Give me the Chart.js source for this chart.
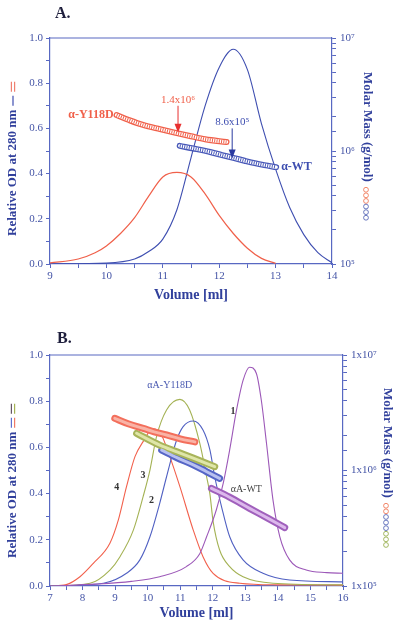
<!DOCTYPE html>
<html><head><meta charset="utf-8">
<script src="https://cdn.jsdelivr.net/npm/chart.js@4/dist/chart.umd.min.js"></script>
<style>
html,body{margin:0;padding:0;background:#fff;}
#wrap{position:relative;width:400px;height:625px;overflow:hidden;background:#fff;}
canvas{position:absolute;left:0;}
.pl{position:absolute;font:bold 16px "Liberation Serif",serif;line-height:16px;color:#1e1e3c;}
</style></head><body>
<div id="wrap">
<canvas id="cA" width="400" height="310" style="top:0"></canvas>
<canvas id="cB" width="400" height="315" style="top:310px"></canvas>
<div class="pl" style="left:55px;top:5px">A.</div>
<div class="pl" style="left:57px;top:330px">B.</div>
</div>
<script>
// ---------- Panel A data ----------
const volA_Y118D = [9.0, 9.5, 9.8, 10.0, 10.25, 10.5, 10.75, 11.0, 11.25, 11.5, 11.75, 12.0, 12.25, 12.5, 12.75, 13.0];
const odA_Y118D  = [0.005, 0.022, 0.05, 0.08, 0.135, 0.205, 0.30, 0.385, 0.405, 0.385, 0.31, 0.215, 0.135, 0.07, 0.025, 0.003];
const volA_WT = [9.0, 10.0, 10.5, 10.75, 11.0, 11.25, 11.5, 11.75, 12.0, 12.25, 12.5, 12.75, 13.0, 13.25, 13.5, 13.75, 14.0];
const odA_WT  = [0.0, 0.004, 0.022, 0.055, 0.11, 0.24, 0.47, 0.70, 0.87, 0.95, 0.86, 0.62, 0.42, 0.25, 0.13, 0.05, 0.005];
const mmVolA_Y118D = [10.18, 10.4, 10.65, 10.95, 11.25, 11.5, 11.75, 12.13];
const mmA_Y118D    = [2.08e6, 1.88e6, 1.70e6, 1.56e6, 1.44e6, 1.35e6, 1.27e6, 1.20e6];
const mmVolA_WT = [11.30, 11.6, 11.84, 12.05, 12.25, 12.45, 12.63, 12.8, 13.01];
const mmA_WT    = [1.11e6, 1.04e6, 9.8e5, 9.2e5, 8.7e5, 8.2e5, 7.8e5, 7.5e5, 7.2e5];
const xTicksA = [9, 10, 11, 12, 13, 14];
const yTicks = [0.0, 0.2, 0.4, 0.6, 0.8, 1.0];

// ---------- Panel B data ----------
const volB_1 = [7.0, 8.4, 9.5, 10.37, 11.19, 11.6, 11.81, 12.11, 12.32, 12.52, 12.73, 12.93, 13.13, 13.34, 13.49, 13.65, 13.85, 14.06, 14.36, 14.87, 15.5, 16.0];
const odB_1  = [0.0, 0.008, 0.02, 0.04, 0.084, 0.14, 0.213, 0.33, 0.444, 0.59, 0.762, 0.89, 0.947, 0.92, 0.805, 0.618, 0.372, 0.213, 0.113, 0.069, 0.058, 0.055];
const volB_2 = [7.0, 8.64, 9.35, 9.76, 10.07, 10.37, 10.58, 10.89, 11.09, 11.40, 11.70, 11.91, 12.06, 12.27, 12.52, 12.93, 13.54, 14.36, 16.0];
const odB_2  = [0.0, 0.012, 0.055, 0.113, 0.213, 0.358, 0.473, 0.632, 0.69, 0.714, 0.675, 0.59, 0.473, 0.343, 0.213, 0.113, 0.055, 0.026, 0.018];
const volB_3 = [7.0, 8.23, 8.84, 9.15, 9.56, 9.86, 10.07, 10.27, 10.58, 10.99, 11.29, 11.60, 11.81, 11.91, 12.01, 12.21, 12.52, 12.93, 13.85, 16.0];
const odB_3  = [0.0, 0.012, 0.069, 0.127, 0.242, 0.387, 0.502, 0.646, 0.762, 0.808, 0.762, 0.618, 0.473, 0.40, 0.28, 0.156, 0.084, 0.04, 0.012, 0.005];
const volB_4 = [7.0, 7.5, 7.92, 8.33, 8.84, 9.10, 9.35, 9.61, 9.86, 10.15, 10.40, 10.68, 10.99, 11.40, 11.70, 12.01, 12.83, 14.0, 16.0];
const odB_4  = [0.0, 0.006, 0.04, 0.098, 0.185, 0.286, 0.43, 0.56, 0.625, 0.68, 0.66, 0.56, 0.43, 0.242, 0.127, 0.055, 0.012, 0.005, 0.004];
const mmVolB_4 = [8.99, 9.4, 9.86, 10.2, 10.58, 11.0, 11.45];
const mmB_4    = [2.83e6, 2.54e6, 2.32e6, 2.16e6, 2.03e6, 1.88e6, 1.77e6];
const mmVolB_3 = [9.66, 10.37, 10.9, 11.40, 12.06];
const mmB_3    = [2.10e6, 1.66e6, 1.45e6, 1.28e6, 1.08e6];
const mmVolB_2 = [10.43, 10.9, 11.40, 11.8, 12.21];
const mmB_2    = [1.50e6, 1.29e6, 1.12e6, 9.8e5, 8.55e5];
const mmVolB_1 = [11.96, 12.5, 13.13, 13.7, 14.21];
const mmB_1    = [7.0e5, 5.9e5, 4.7e5, 3.85e5, 3.2e5];
const xTicksB = [7, 8, 9, 10, 11, 12, 13, 14, 15, 16];

// ---------- styling ----------
const AX = '#5868c2', TXT = '#4454a6', TTL = '#31409c';
const FONT = '"Liberation Serif", "Times New Roman", serif';
const SUP = {'5':'\u2075','6':'\u2076','7':'\u2077'};
const pts = (xs, ys) => xs.map((x, i) => ({x, y: ys[i]}));

function curve(xs, ys, color, w) {
  return {data: pts(xs, ys), borderColor: color, borderWidth: w || 1.2, pointRadius: 0,
          cubicInterpolationMode: 'monotone', yAxisID: 'y', order: 20, fill: false};
}
function tube(xs, ys, outer, inner, w1, w2, dashColor) {
  const base = {pointRadius: 0, cubicInterpolationMode: 'monotone', yAxisID: 'y2', fill: false, borderCapStyle: 'round'};
  const arr = [
    Object.assign({}, base, {data: pts(xs, ys), borderColor: outer, borderWidth: w1, order: 5}),
    Object.assign({}, base, {data: pts(xs, ys), borderColor: inner, borderWidth: w2, order: 4})
  ];
  if (dashColor) arr.push(Object.assign({}, base, {data: pts(xs, ys), borderColor: dashColor, borderWidth: w2, borderDash: [1, 1.3], borderCapStyle: 'butt', order: 3}));
  return arr;
}

function scalesFor(xmin, xmax, xTicks, leftW, rightW, xH, rightLabel, titlePadBottom) {
  const gridOpt = {display: true, drawOnChartArea: false, tickLength: 4, color: AX, lineWidth: 1};
  const border = {display: true, color: AX, width: 1.2};
  const tickFont = {family: FONT, size: 11};
  return {
    x: {type: 'linear', min: xmin, max: xmax, position: 'bottom',
        ticks: {stepSize: 0.5, autoSkip: false, maxRotation: 0, font: tickFont, color: TXT, padding: 2,
                callback: v => xTicks.includes(v) ? String(v) : ''},
        grid: gridOpt, border: border,
        title: {display: true, text: 'Volume [ml]', color: TTL, font: {family: FONT, size: 14, weight: 'bold'}, padding: {top: 0, bottom: titlePadBottom}},
        afterFit: s => { s.height = xH; }},
    y: {type: 'linear', min: 0, max: 1, position: 'left',
        ticks: {stepSize: 0.1, autoSkip: false, font: tickFont, color: TXT, padding: 3,
                callback: v => yTicks.some(t => Math.abs(t - v) < 1e-6) ? v.toFixed(1) : ''},
        grid: gridOpt, border: border,
        afterFit: s => { s.width = leftW; }},
    y2: {type: 'logarithmic', min: 1e5, max: 1e7, position: 'right',
        ticks: {autoSkip: false, font: tickFont, color: TXT, padding: 4,
                callback: v => { const l = Math.log10(v); return Math.abs(l - Math.round(l)) < 1e-9 ? rightLabel(Math.round(l)) : ''; }},
        grid: gridOpt, border: border,
        afterFit: s => { s.width = rightW; }}
  };
}

function drawLeftTitle(ctx, x, yBottom, glyphs) {
  ctx.save();
  ctx.translate(x, yBottom);
  ctx.rotate(-Math.PI / 2);
  ctx.font = 'bold 13px ' + FONT;
  ctx.fillStyle = TTL;
  ctx.textBaseline = 'middle';
  ctx.textAlign = 'left';
  const t = 'Relative OD at 280 nm';
  ctx.fillText(t, 0, 0);
  let p = ctx.measureText(t).width + 4;
  glyphs.forEach(g => {
    g.forEach(l => {
      ctx.strokeStyle = l.c; ctx.lineWidth = 1.2;
      ctx.beginPath(); ctx.moveTo(p, l.o); ctx.lineTo(p + 10, l.o); ctx.stroke();
    });
    p += 14;
  });
  ctx.restore();
}
function drawRightTitle(ctx, x, yTop, circles) {
  ctx.save();
  ctx.translate(x, yTop);
  ctx.rotate(Math.PI / 2);
  ctx.font = 'bold 13px ' + FONT;
  ctx.fillStyle = TTL;
  ctx.textBaseline = 'middle';
  ctx.textAlign = 'left';
  const t = 'Molar Mass (g/mol)';
  ctx.fillText(t, 0, 0);
  let p = ctx.measureText(t).width + 8;
  circles.forEach(c => {
    ctx.strokeStyle = c; ctx.lineWidth = 0.9;
    ctx.beginPath(); ctx.arc(p, 1, 2.4, 0, Math.PI * 2); ctx.stroke();
    p += 5.6;
  });
  ctx.restore();
}
function frameTop(chart) {
  const a = chart.chartArea, ctx = chart.ctx;
  ctx.save(); ctx.strokeStyle = AX; ctx.lineWidth = 1.2;
  ctx.beginPath(); ctx.moveTo(a.left, a.top); ctx.lineTo(a.right, a.top); ctx.stroke(); ctx.restore();
}
function arrow(ctx, x, y0, y1, color) {
  ctx.save(); ctx.strokeStyle = color; ctx.fillStyle = color; ctx.lineWidth = 1;
  ctx.beginPath(); ctx.moveTo(x, y0); ctx.lineTo(x, y1 - 6); ctx.stroke();
  ctx.beginPath(); ctx.moveTo(x - 3.5, y1 - 9); ctx.lineTo(x + 3.5, y1 - 9); ctx.lineTo(x, y1); ctx.closePath(); ctx.fill();
  ctx.restore();
}
function label(ctx, txt, x, y, color, font, align) {
  ctx.save(); ctx.font = font; ctx.fillStyle = color; ctx.textAlign = align || 'center'; ctx.textBaseline = 'middle';
  ctx.fillText(txt, x, y); ctx.restore();
}

// ---------- Chart A ----------
const redA = '#f0604a', blueA = '#3e4eb0';
new Chart(document.getElementById('cA'), {
  type: 'line',
  data: {datasets: [
    curve(volA_Y118D, odA_Y118D, redA, 1.2),
    curve(volA_WT, odA_WT, blueA, 1.1),
    ...tube(mmVolA_Y118D, mmA_Y118D, redA, '#ffffff', 6, 3.4, redA),
    ...tube(mmVolA_WT, mmA_WT, '#4858b8', '#ffffff', 6, 3.4, '#4858b8')
  ]},
  options: {
    responsive: false, animation: false, devicePixelRatio: 1,
    layout: {padding: {top: 38, left: 0, right: 0, bottom: 0}},
    plugins: {legend: {display: false}, tooltip: {enabled: false}},
    scales: scalesFor(9, 14, xTicksA, 50, 68, 46, e => '10' + SUP[e], 6)
  },
  plugins: [{id: 'decoA', afterDraw(chart) {
    const ctx = chart.ctx, xs = chart.scales.x, ys = chart.scales.y2;
    frameTop(chart);
    drawLeftTitle(ctx, 13, 236, [[{c: blueA, o: 0}], [{c: '#f08070', o: -1.6}, {c: '#f08070', o: 1.6}]]);
    drawRightTitle(ctx, 367, 72, ['#f07a5a', '#f07a5a', '#f07a5a', '#5a6ab8', '#5a6ab8', '#5a6ab8']);
    // annotations
    const xr = xs.getPixelForValue(11.27), tr = ys.getPixelForValue(1.45e6);
    label(ctx, '1.4x10\u2076', xr, tr - 33, redA, '11px ' + FONT);
    arrow(ctx, xr, tr - 27, tr, '#e83030');
    const xb = xs.getPixelForValue(12.23), tb = ys.getPixelForValue(8.6e5);
    label(ctx, '8.6x10\u2075', xb, tb - 36, '#3e4eb0', '11px ' + FONT);
    arrow(ctx, xb, tb - 30, tb, '#2a3aa0');
    label(ctx, '\u03b1-Y118D', xs.getPixelForValue(mmVolA_Y118D[0]) - 3, ys.getPixelForValue(mmA_Y118D[0]), redA, 'bold 12px ' + FONT, 'right');
    const n = mmVolA_WT.length - 1;
    label(ctx, '\u03b1-WT', xs.getPixelForValue(mmVolA_WT[n]) + 5, ys.getPixelForValue(mmA_WT[n]), '#3e4eb0', 'bold 12px ' + FONT, 'left');
  }}]
});

// ---------- Chart B ----------
const c1 = '#9c58b8', c2 = '#5060c2', c3 = '#a4b254', c4 = '#f2604c';
new Chart(document.getElementById('cB'), {
  type: 'line',
  data: {datasets: [
    curve(volB_1, odB_1, c1, 1.1),
    curve(volB_2, odB_2, c2, 1.1),
    curve(volB_3, odB_3, c3, 1.1),
    curve(volB_4, odB_4, c4, 1.1),
    ...tube(mmVolB_4, mmB_4, '#f36f5c', '#f9b3a6', 7, 3),
    ...tube(mmVolB_3, mmB_3, '#a8b45a', '#dfe6a8', 7, 3),
    ...tube(mmVolB_2, mmB_2, '#5565c6', '#b8c0f0', 7, 3),
    ...tube(mmVolB_1, mmB_1, '#a060bc', '#dcb8ec', 7, 3)
  ]},
  options: {
    responsive: false, animation: false, devicePixelRatio: 1,
    layout: {padding: {top: 45, left: 0, right: 0, bottom: 0}},
    plugins: {legend: {display: false}, tooltip: {enabled: false}},
    scales: scalesFor(7, 16, xTicksB, 50, 57, 39, e => '1x10' + SUP[e], 3)
  },
  plugins: [{id: 'decoB', afterDraw(chart) {
    const ctx = chart.ctx, xs = chart.scales.x, ys = chart.scales.y;
    frameTop(chart);
    drawLeftTitle(ctx, 13, 248, [[{c: '#6070d0', o: -1.6}, {c: '#f07a66', o: 1.6}], [{c: '#665566', o: -1.6}, {c: '#a4b254', o: 1.6}]]);
    drawRightTitle(ctx, 387, 78, ['#f07a5a', '#f07a5a', '#5a6ab8', '#5a6ab8', '#5a6ab8', '#98b050', '#98b050', '#98b050']);
    const f = '10px ' + FONT, fb = 'bold 10px ' + FONT;
    label(ctx, '\u03b1A-Y118D', xs.getPixelForValue(10.68), ys.getPixelForValue(0.87), '#4858b0', f);
    label(ctx, '1', xs.getPixelForValue(12.62), ys.getPixelForValue(0.755), '#333333', fb);
    label(ctx, '2', xs.getPixelForValue(10.12), ys.getPixelForValue(0.372), '#333333', fb);
    label(ctx, '3', xs.getPixelForValue(9.86), ys.getPixelForValue(0.48), '#333333', fb);
    label(ctx, '4', xs.getPixelForValue(9.05), ys.getPixelForValue(0.427), '#333333', fb);
    label(ctx, '\u03b1A-WT', xs.getPixelForValue(13.03), ys.getPixelForValue(0.419), '#444444', f);
  }}]
});
</script>
</body></html>
